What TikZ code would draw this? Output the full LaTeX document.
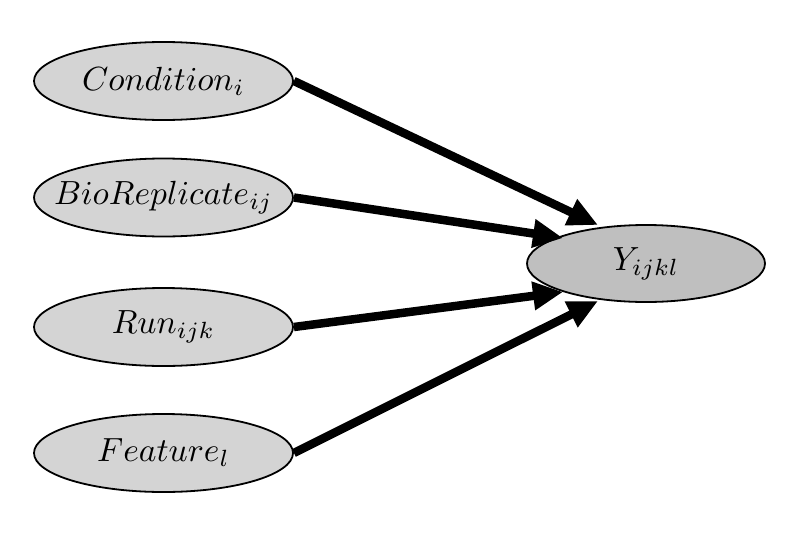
\documentclass[tikz,border=0pt]{standalone}
\usepackage{graphicx}
\usetikzlibrary{arrows.meta,shapes.geometric}
\newcommand{\lbl}[1]{\makebox[0pt]{\scalebox{3.35}{$#1$}}}
\begin{document}
\begin{tikzpicture}[x=1pt,y=-1pt,
  var/.style={ellipse,draw=black,line width=1.8pt,fill=black!17,inner sep=0pt,
    minimum width=259pt,minimum height=78pt},
  arr/.style={line width=8.5pt,-{Triangle[length=30pt,width=27pt]}}]
\useasboundingbox (0,0) rectangle (791,538);
\node[var] (c) at (163.5,81) {\lbl{Condition_i}};
\node[var] (b) at (163.5,197.5) {\lbl{BioReplicate_{ij}}};
\node[var] (r) at (163.5,327) {\lbl{Run_{ijk}}};
\node[var] (f) at (163.5,453) {\lbl{Feature_l}};
\node[var,fill=black!25,minimum width=238pt,minimum height=77pt] (y) at (646,263.5) {\lbl{Y_{ijkl}}};
\coordinate (t1) at (598,225);
\coordinate (t2) at (563,238);
\coordinate (t3) at (563,292);
\coordinate (t4) at (598,301);
\draw[arr] (c.east) -- (t1);
\draw[arr] (b.east) -- (t2);
\draw[arr] (r.east) -- (t3);
\draw[arr] (f.east) -- (t4);
\end{tikzpicture}
\end{document}
